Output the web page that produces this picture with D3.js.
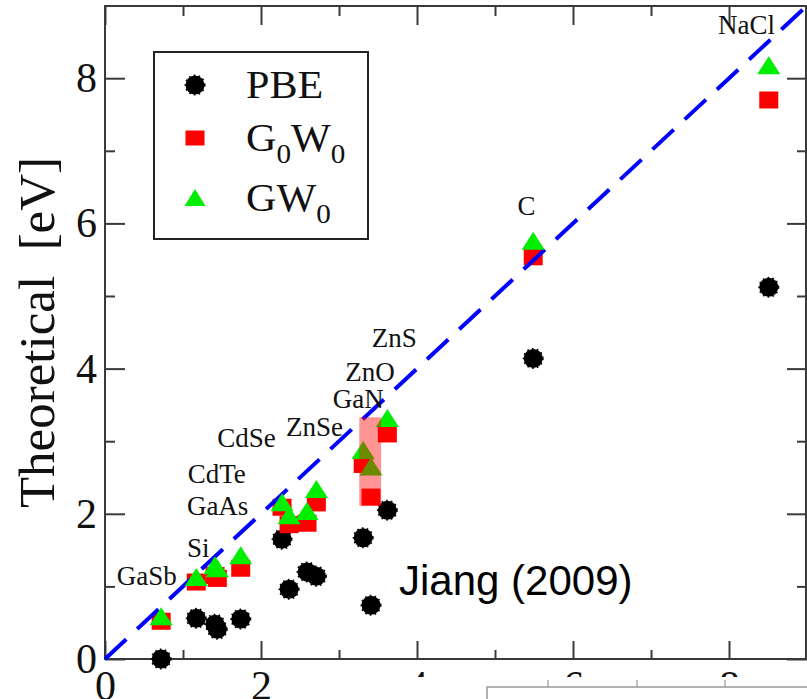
<!DOCTYPE html>
<html>
<head>
<meta charset="utf-8">
<script src="https://cdn.jsdelivr.net/npm/d3@7"></script>
<style>
  html, body { margin: 0; padding: 0; background: #fff; }
  svg { display: block; }
</style>
</head>
<body>
<svg id="chart" width="807" height="699"></svg>
<script>
// Experimental band gaps (eV) and the calculated values for each method
const experimental = [0.72, 1.17, 1.41, 1.44, 1.74, 2.27, 2.36, 2.59, 2.71, 3.31, 3.41, 3.62, 5.49, 8.51];
const pbeGap       = [0.00, 0.56, 0.48, 0.41, 0.55, 1.65, 0.96, 1.20, 1.14, 1.67, 0.74, 2.05, 4.14, 5.12];
const g0w0Gap      = [0.52, 1.06, 1.15, 1.11, 1.25, 2.09, 1.85, 1.87, 2.15, 2.68, 2.23, 3.10, 5.54, 7.70];
const gw0Gap       = [0.59, 1.13, 1.29, 1.25, 1.43, 2.16, 1.98, 2.04, 2.34, 2.88, 2.65, 3.32, 5.76, 8.18];

// Material names with the data-space point where each label starts (x) and sits (baseline y)
const materialNames = ["GaSb", "Si", "GaAs", "CdTe", "CdSe", "ZnSe", "GaN", "ZnO", "ZnS", "C", "NaCl"];
const materialLabelX = [0.15, 1.05, 1.05, 1.06, 1.44, 2.32, 2.92, 3.08, 3.42, 5.29, 7.86];
const materialLabelY = [1.02, 1.40, 1.98, 2.42, 2.92, 3.07, 3.46, 3.83, 4.30, 6.12, 8.61];

// Highlighted range (x0, x1, y0, y1) around the GaN / ZnO points
const highlightX = [3.26, 3.54];
const highlightY = [2.11, 3.33];

const majorTicks = [0, 2, 4, 6, 8];
const minorTicks = [1, 3, 5, 7];
const axisDomain = [0, 9];

const seriesNames = ["PBE", "G0W0", "GW0"];

const svg = d3.select("#chart");
const plotLeft = 105, plotRight = 807, plotTop = 5.6, plotBottom = 659;

const x = d3.scaleLinear().domain(axisDomain).range([plotLeft, plotRight]);
const y = d3.scaleLinear().domain(axisDomain).range([plotBottom, plotTop]);

const serif = "'Liberation Serif', 'Times New Roman', Times, serif";
const axisColor = "#3a3a3a";

// ----- axes: ticks point inward on all four sides -----
function styleAxis(g) {
  g.select(".domain").remove();
  g.selectAll(".tick line").attr("stroke", axisColor).attr("stroke-width", 2);
  g.selectAll(".tick text")
    .attr("fill", "#111")
    .style("font-family", serif)
    .style("font-size", "42px");
}

svg.append("g").attr("transform", `translate(0,${plotBottom})`)
  .call(d3.axisBottom(x).tickValues(majorTicks).tickSize(-18).tickPadding(11).tickFormat(d3.format("d")))
  .call(styleAxis);
svg.append("g").attr("transform", `translate(0,${plotBottom})`)
  .call(d3.axisBottom(x).tickValues(minorTicks).tickSize(-9).tickFormat(""))
  .call(styleAxis);
svg.append("g").attr("transform", `translate(${plotLeft},0)`)
  .call(d3.axisLeft(y).tickValues(majorTicks).tickSize(-20).tickPadding(8).tickFormat(d3.format("d")))
  .call(styleAxis);
svg.append("g").attr("transform", `translate(${plotLeft},0)`)
  .call(d3.axisLeft(y).tickValues(minorTicks).tickSize(-10).tickFormat(""))
  .call(styleAxis);
svg.append("g").attr("transform", `translate(0,6)`)
  .call(d3.axisTop(x).tickValues(majorTicks).tickSize(-19).tickFormat(""))
  .call(styleAxis);
svg.append("g").attr("transform", `translate(0,6)`)
  .call(d3.axisTop(x).tickValues(minorTicks).tickSize(-10).tickFormat(""))
  .call(styleAxis);
svg.append("g").attr("transform", `translate(${plotRight},0)`)
  .call(d3.axisRight(y).tickValues(majorTicks).tickSize(-20).tickFormat(""))
  .call(styleAxis);
svg.append("g").attr("transform", `translate(${plotRight},0)`)
  .call(d3.axisRight(y).tickValues(minorTicks).tickSize(-10).tickFormat(""))
  .call(styleAxis);

// plot frame
svg.append("rect")
  .attr("x", plotLeft).attr("y", 6)
  .attr("width", plotRight - 1 - plotLeft).attr("height", plotBottom - 6)
  .attr("fill", "none").attr("stroke", axisColor).attr("stroke-width", 2);

// y-axis title
svg.append("text")
  .attr("transform", `translate(54,${(plotBottom + 6) / 2}) rotate(-90)`)
  .attr("text-anchor", "middle")
  .attr("fill", "#111")
  .style("font-family", serif)
  .style("font-size", "51px")
  .style("white-space", "pre")
  .text("Theoretical  [eV]");

// ----- markers -----
const points = experimental.map((e, i) => ({ e, pbe: pbeGap[i], g0w0: g0w0Gap[i], gw0: gw0Gap[i] }));

const plot = svg.append("g");

// PBE: black discs with a ragged rim
plot.selectAll("circle.pbe").data(points).join("circle")
  .attr("class", "pbe")
  .attr("cx", d => x(d.e)).attr("cy", d => y(d.pbe))
  .attr("r", 9.5)
  .attr("fill", "#000")
  .attr("stroke", "#000").attr("stroke-width", 2)
  .attr("stroke-dasharray", "1.6,3.2");

// G0W0: red squares
const sqW = 19, sqH = 17;
plot.selectAll("rect.g0w0").data(points).join("rect")
  .attr("class", "g0w0")
  .attr("x", d => x(d.e) - sqW / 2).attr("y", d => y(d.g0w0) - sqH / 2)
  .attr("width", sqW).attr("height", sqH)
  .attr("fill", "#ff0000");

// y = x reference line
plot.append("line")
  .attr("x1", x(0)).attr("y1", y(0))
  .attr("x2", x(9)).attr("y2", y(9))
  .attr("stroke", "#0000ff").attr("stroke-width", 4)
  .attr("stroke-dasharray", "29,15");

// GW0: green triangles
const triW = 23, triH = 18;
plot.selectAll("path.gw0").data(points).join("path")
  .attr("class", "gw0")
  .attr("d", d => {
    const cx = x(d.e), cy = y(d.gw0);
    return `M${cx},${cy - triH / 2}L${cx + triW / 2},${cy + triH / 2}L${cx - triW / 2},${cy + triH / 2}Z`;
  })
  .attr("fill", "#00ee00");

// translucent highlight box
plot.append("rect")
  .attr("x", x(highlightX[0])).attr("y", y(highlightY[1]))
  .attr("width", x(highlightX[1]) - x(highlightX[0]))
  .attr("height", y(highlightY[0]) - y(highlightY[1]))
  .attr("fill", "#ff0000").attr("fill-opacity", 0.42);

// material labels
svg.append("g").selectAll("text").data(materialNames).join("text")
  .attr("x", (d, i) => x(materialLabelX[i]))
  .attr("y", (d, i) => y(materialLabelY[i]))
  .attr("fill", "#111")
  .style("font-family", serif)
  .style("font-size", "27px")
  .text(d => d);

// ----- legend -----
const legend = svg.append("g");
legend.append("rect")
  .attr("x", 154).attr("y", 52).attr("width", 214).attr("height", 187)
  .attr("fill", "#fff").attr("stroke", "#222").attr("stroke-width", 2);

const legendRows = [85, 138, 198];
legend.append("circle").attr("cx", 195).attr("cy", legendRows[0]).attr("r", 9.5)
  .attr("fill", "#000").attr("stroke", "#000").attr("stroke-width", 2).attr("stroke-dasharray", "1.6,3.2");
legend.append("rect").attr("x", 195 - 9.5).attr("y", legendRows[1] - 7.5).attr("width", 19).attr("height", 15)
  .attr("fill", "#ff0000");
legend.append("path")
  .attr("d", `M195,${legendRows[2] - 9}L${195 + 10.5},${legendRows[2] + 8}L${195 - 10.5},${legendRows[2] + 8}Z`)
  .attr("fill", "#00ee00");

function legendLabel(row, parts) {
  const t = legend.append("text")
    .attr("transform", `translate(246,${legendRows[row] + 13}) scale(1.08,1)`)
    .attr("fill", "#111")
    .style("font-family", serif)
    .style("font-size", "39px");
  parts.forEach(p => {
    const s = t.append("tspan").text(p.text);
    if (p.sub) s.style("font-size", "27px").attr("dy", 12);
    else if (p.after) s.attr("dy", -12);
  });
}
legendLabel(0, [{ text: seriesNames[0] }]);
legendLabel(1, [{ text: "G" }, { text: "0", sub: true }, { text: "W", after: true }, { text: "0", sub: true }]);
legendLabel(2, [{ text: "GW" }, { text: "0", sub: true }]);

// citation note
svg.append("text")
  .attr("x", 399).attr("y", 595)
  .attr("fill", "#000")
  .style("font-family", "'Liberation Sans', Arial, Helvetica, sans-serif")
  .style("font-size", "42px")
  .text("Jiang (2009)");

// inset panel edge along the bottom
const inset = svg.append("g");
inset.append("rect").attr("x", 400).attr("y", 677).attr("width", 407).attr("height", 22).attr("fill", "#fff");
inset.append("path").attr("d", "M487,699V687H808")
  .attr("fill", "none").attr("stroke", "#999").attr("stroke-width", 1.5);
[548, 637, 725].forEach(px => {
  inset.append("line").attr("x1", px).attr("x2", px).attr("y1", 680).attr("y2", 687)
    .attr("stroke", "#999").attr("stroke-width", 1.2);
});
</script>
</body>
</html>
